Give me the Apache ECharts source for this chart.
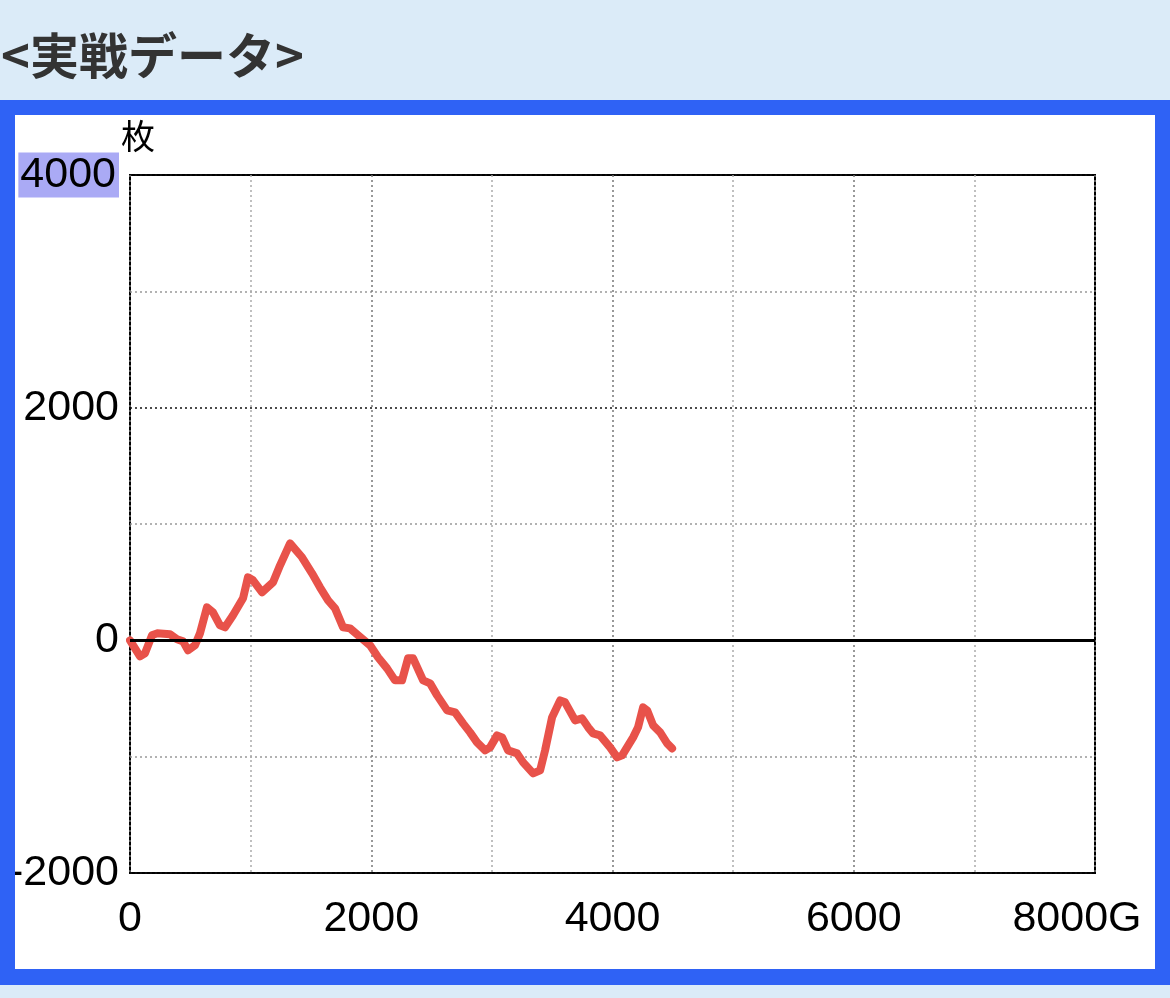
<!DOCTYPE html>
<html>
<head>
<meta charset="utf-8">
<script src="https://cdn.jsdelivr.net/npm/echarts@6/dist/echarts.min.js"></script>
<style>
html,body{margin:0;padding:0;background:#dbebf8;}
#c{width:1170px;height:998px;}
</style>
</head>
<body>
<div id="c"></div>
<script>
// Data (games, coins)
const games = [0,83,124,182,224,332,390,440,481,539,580,638,688,746,788,854,937,978,1020,1095,1186,1244,1327,1426,1509,1575,1642,1700,1766,1824,1891,1990,2056,2131,2197,2255,2305,2347,2430,2488,2546,2629,2695,2761,2819,2877,2944,2985,3043,3085,3134,3209,3259,3342,3400,3441,3499,3566,3607,3690,3748,3798,3839,3897,3980,4038,4080,4171,4212,4254,4287,4337,4395,4453,4494];
const coins = [0,-138,-112,43,60,52,9,-9,-86,-43,60,284,241,129,112,215,361,542,516,413,499,645,834,714,576,456,344,275,112,103,43,-43,-146,-241,-344,-344,-155,-155,-344,-370,-473,-602,-619,-714,-791,-877,-946,-920,-817,-834,-946,-972,-1049,-1144,-1118,-946,-662,-516,-533,-688,-671,-748,-800,-817,-920,-1006,-989,-834,-748,-576,-602,-731,-791,-886,-929];
const xTicks = [0,2000,4000,6000,8000];
const yTicks = [-2000,0,2000,4000];
const titleText = '<実戦データ>';
const yUnit = '枚';
const xUnit = 'G';

const chart = echarts.init(document.getElementById('c'));
const seriesData = games.map((g,i)=>[g,coins[i]]);
const FONT = '"Liberation Sans", Arial, sans-serif';
const FS = 43;

chart.setOption({
  animation:false,
  backgroundColor:'#dbebf8',
  title:{
    text:titleText, left:-4, top:26,
    textStyle:{fontFamily:'"Noto Sans CJK JP", sans-serif', fontWeight:'bold', fontSize:49, color:'#333333'}
  },
  graphic:[
    {type:'rect', z:-10, shape:{x:0,y:100,width:1170,height:885}, style:{fill:'#2f62f5'}},
    {type:'rect', z:-9, shape:{x:15,y:115,width:1140,height:854}, style:{fill:'#ffffff'}},
    {type:'rect', z:100, shape:{x:0,y:100,width:15,height:885}, style:{fill:'#2f62f5'}}
  ],
  grid:{left:130, top:175, width:965, height:698, show:true, borderColor:'#000', borderWidth:2, backgroundColor:'transparent'},
  xAxis:{
    type:'value', min:0, max:8000, interval:1000,
    axisLine:{show:false}, axisTick:{show:false},
    splitLine:{show:true, lineStyle:{type:[2,3], width:1.5, color:['#777','#aaa']}},
    axisLabel:{
      margin:25, fontFamily:FONT, fontSize:FS, color:'#000',
      formatter:function(v){
        if(xTicks.indexOf(v)<0) return '';
        if(v===8000) return '{g|'+v+xUnit+'}';
        return String(v);
      },
      rich:{g:{fontFamily:FONT, fontSize:FS, color:'#000', padding:[0,36,0,0]}}
    }
  },
  yAxis:{
    type:'value', min:-2000, max:4000, interval:1000,
    name:yUnit, nameLocation:'end', nameGap:18,
    nameTextStyle:{fontFamily:'"Noto Sans CJK JP", sans-serif', fontSize:34, color:'#000', align:'left', padding:[0,0,0,-9]},
    axisLine:{show:false}, axisTick:{show:false},
    splitLine:{show:true, lineStyle:{type:[2,3], width:1.5, color:['#111','#999']}},
    axisLabel:{
      margin:11, fontFamily:FONT, fontSize:FS, color:'#000',
      formatter:function(v){
        if(yTicks.indexOf(v)<0) return '';
        if(v===4000) return '{h|'+v+'}';
        return String(v);
      },
      rich:{h:{fontFamily:FONT, fontSize:FS, color:'#000', backgroundColor:'#aaaaf5', padding:[1,3,1,2]}}
    }
  },
  series:[{
    type:'line', data:seriesData, symbol:'none', smooth:false,
    lineStyle:{color:'#e8524a', width:8, join:'round', cap:'round'},
    markLine:{
      silent:true, symbol:'none', label:{show:false},
      lineStyle:{color:'#000', width:3, type:'solid'},
      data:[{yAxis:0}]
    },
    z:3
  }]
});
</script>
</body>
</html>
